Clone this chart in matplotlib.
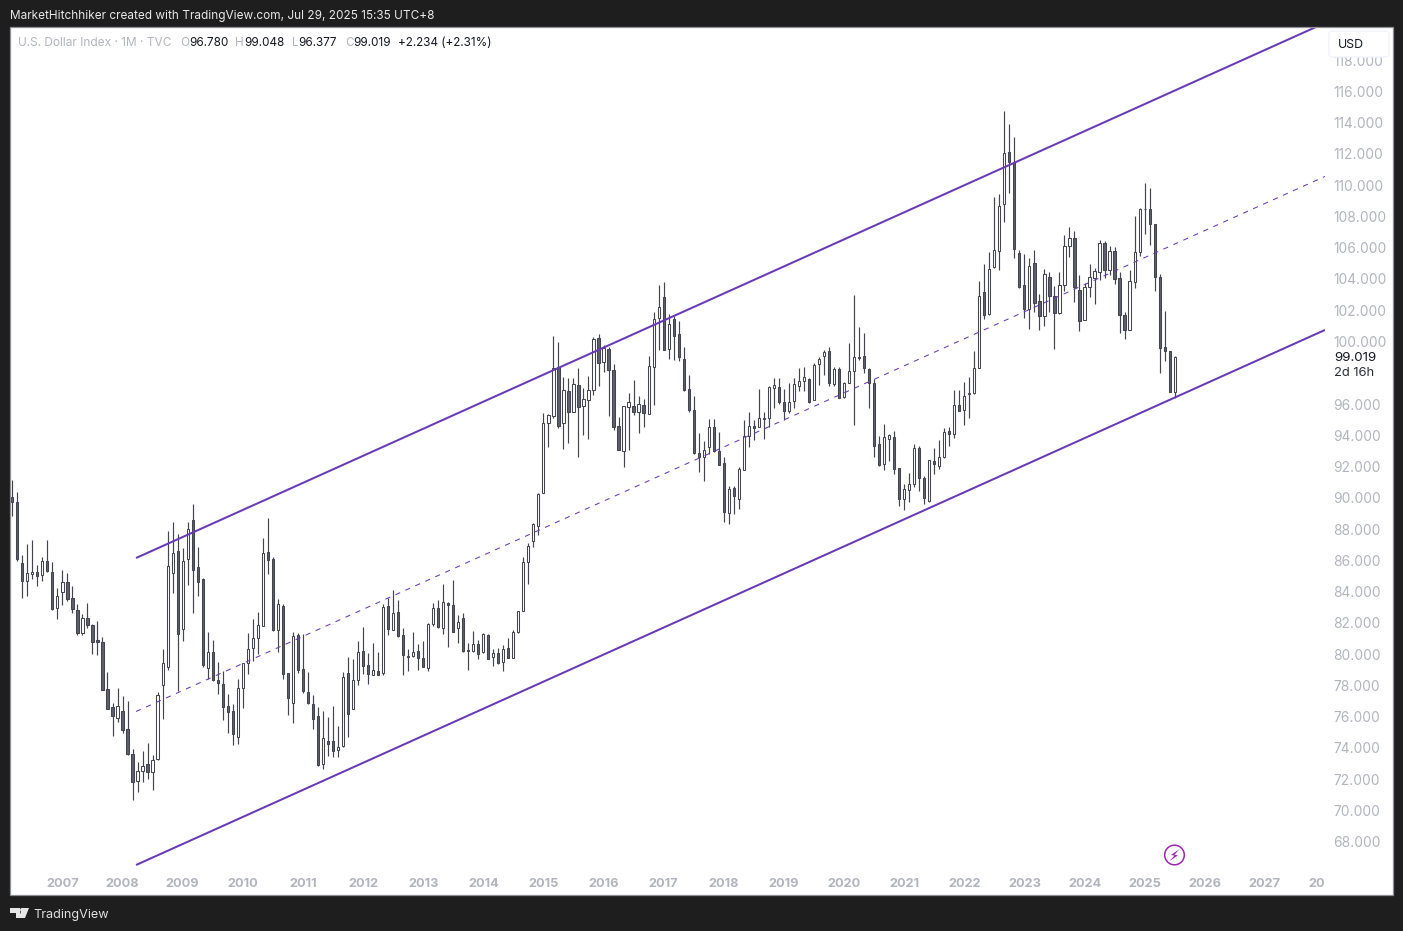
"""U.S. Dollar Index, monthly candles with a rising channel (TradingView snapshot)."""
import matplotlib
matplotlib.use("Agg")
import matplotlib.pyplot as plt
from matplotlib.patches import Circle, FancyBboxPatch, Polygon, Rectangle

plt.rcParams["font.family"] = ["Inter", "DejaVu Sans"]

# monthly candles, Mar 2006 .. Jul 2025
opens = [
    90.03, 89.71, 85.85, 84.66, 85.10, 85.23, 85.04, 85.94, 85.23, 82.93, 83.95, 84.59,
    83.57, 82.80, 81.37, 82.29, 81.84, 80.88, 80.75, 77.75, 76.60, 75.89, 76.34, 75.19,
    73.59, 71.86, 72.50, 72.95, 72.44, 73.27, 78.00, 79.15, 85.17, 86.58, 81.59, 86.06,
    88.56, 85.55, 84.78, 79.09, 80.11, 78.32, 78.07, 76.66, 76.34, 74.68, 77.81, 79.41,
    80.37, 81.01, 81.78, 86.51, 86.06, 81.52, 83.06, 78.77, 76.85, 81.20, 79.03, 77.55,
    76.79, 76.02, 72.95, 74.42, 74.42, 73.89, 74.10, 78.77, 76.47, 78.32, 80.18, 79.28,
    78.68, 78.90, 78.77, 83.06, 81.52, 82.67, 81.20, 79.86, 79.90, 80.18, 79.73, 79.09,
    81.90, 82.93, 81.65, 83.25, 83.12, 81.65, 82.29, 80.24, 80.18, 80.63, 80.11, 81.20,
    79.84, 80.05, 79.47, 80.37, 79.73, 81.39, 82.74, 85.87, 87.22, 88.17, 90.29, 94.77,
    95.21, 98.35, 94.77, 96.81, 95.51, 97.20, 95.85, 96.24, 96.88, 100.20, 98.67, 99.50,
    98.15, 94.57, 92.97, 95.79, 95.85, 95.47, 95.92, 95.34, 98.35, 101.48, 102.83, 99.50,
    101.42, 100.46, 98.86, 96.94, 95.60, 92.85, 92.59, 93.23, 94.51, 92.97, 92.21, 89.00,
    90.61, 89.90, 91.76, 93.93, 94.57, 94.51, 95.06, 95.09, 97.00, 97.07, 96.11, 95.53,
    96.17, 97.13, 97.45, 97.58, 96.24, 98.54, 99.05, 99.37, 97.26, 98.22, 96.43, 97.32,
    98.09, 98.99, 99.05, 98.22, 97.32, 93.42, 92.14, 93.74, 93.87, 91.88, 89.90, 90.48,
    90.86, 93.17, 91.24, 89.78, 92.33, 92.01, 92.59, 94.25, 94.06, 95.92, 95.60, 96.66,
    96.68, 98.28, 103.14, 101.74, 104.74, 105.77, 108.77, 112.10, 111.46, 105.64, 103.59, 102.06,
    105.00, 102.57, 101.61, 104.10, 102.89, 101.80, 103.59, 106.09, 106.60, 103.27, 101.35, 103.46,
    104.04, 104.42, 106.28, 104.55, 105.77, 104.04, 101.67, 100.71, 103.78, 105.70, 108.45, 108.45,
    107.50, 104.10, 99.63, 99.37, 96.78,
]
highs = [
    91.14, 90.35, 86.34, 87.05, 87.30, 85.70, 86.19, 87.30, 85.87, 84.23, 85.38, 85.19,
    84.36, 83.19, 82.55, 83.25, 81.91, 82.10, 81.07, 78.86, 76.85, 77.81, 77.30, 76.98,
    73.91, 73.08, 73.80, 74.29, 73.55, 77.55, 80.31, 87.88, 88.45, 87.66, 86.77, 88.43,
    89.60, 86.83, 84.85, 81.39, 80.88, 79.47, 78.90, 77.45, 76.79, 78.39, 79.45, 81.33,
    82.23, 82.67, 87.41, 88.69, 86.19, 83.51, 83.19, 78.77, 81.39, 81.33, 81.27, 78.83,
    77.36, 76.59, 76.34, 75.95, 76.66, 75.38, 78.83, 79.79, 79.67, 80.82, 81.71, 80.05,
    80.69, 80.11, 83.18, 83.57, 84.08, 83.44, 81.65, 80.31, 81.39, 80.63, 80.82, 81.97,
    83.25, 83.44, 84.46, 83.31, 84.72, 82.48, 82.61, 80.69, 81.46, 80.88, 81.33, 81.27,
    80.31, 80.37, 80.56, 81.01, 81.52, 82.74, 86.19, 87.09, 88.37, 90.33, 95.40, 95.34,
    100.35, 99.95, 97.71, 97.64, 97.64, 98.28, 97.00, 97.77, 100.27, 100.46, 99.76, 99.63,
    98.54, 95.15, 95.85, 96.68, 97.52, 96.49, 96.30, 99.05, 101.87, 103.59, 103.79, 101.74,
    101.61, 101.29, 99.63, 97.84, 96.49, 94.12, 93.61, 95.02, 95.02, 94.19, 92.59, 90.73,
    90.73, 91.95, 94.96, 95.47, 94.96, 96.94, 95.47, 97.13, 97.64, 97.64, 96.94, 97.32,
    97.64, 98.28, 98.35, 97.64, 98.60, 98.99, 99.43, 99.63, 98.35, 98.35, 97.43, 99.88,
    102.95, 100.91, 100.52, 98.28, 97.58, 93.93, 94.70, 94.06, 94.25, 91.88, 90.86, 91.56,
    93.42, 93.29, 91.37, 92.40, 93.17, 93.68, 94.44, 94.51, 96.88, 96.88, 97.39, 97.71,
    99.37, 103.87, 104.94, 105.70, 109.22, 109.41, 114.72, 113.91, 113.06, 105.83, 105.58, 105.32,
    105.83, 103.02, 104.62, 104.42, 103.53, 104.42, 106.79, 107.30, 107.05, 104.23, 103.72, 104.94,
    104.68, 106.47, 106.41, 106.09, 106.02, 104.42, 101.86, 104.55, 108.01, 108.52, 110.12, 109.80,
    107.50, 104.30, 101.93, 99.37, 99.048,
]
lows = [
    88.86, 85.98, 83.61, 83.74, 84.78, 84.38, 84.70, 85.23, 82.80, 82.27, 83.16, 83.38,
    82.65, 81.24, 81.24, 81.69, 80.03, 79.96, 77.68, 76.47, 74.78, 75.64, 74.97, 73.57,
    70.69, 71.20, 71.84, 72.03, 71.33, 73.20, 75.87, 78.96, 83.93, 77.64, 80.86, 84.44,
    82.65, 83.74, 79.20, 78.39, 78.26, 77.43, 75.81, 74.97, 74.21, 74.27, 76.57, 78.71,
    79.54, 80.01, 81.78, 85.10, 81.46, 80.11, 78.43, 76.13, 75.61, 78.77, 77.53, 76.79,
    75.23, 72.86, 72.67, 73.50, 73.44, 73.44, 74.08, 74.72, 76.47, 78.00, 78.73, 78.11,
    78.64, 78.64, 78.64, 81.20, 81.52, 81.07, 78.64, 78.90, 79.84, 78.96, 79.15, 78.94,
    81.78, 81.65, 81.31, 80.48, 81.39, 80.69, 80.11, 79.00, 80.11, 79.71, 80.07, 79.67,
    79.26, 79.35, 78.94, 79.73, 79.73, 81.33, 82.74, 84.46, 86.87, 87.62, 90.29, 93.27,
    95.09, 94.44, 93.12, 93.53, 95.47, 92.63, 94.02, 93.78, 96.60, 97.17, 98.03, 95.26,
    94.32, 93.04, 91.95, 93.04, 95.28, 94.12, 94.51, 95.34, 95.92, 99.44, 99.44, 98.86,
    98.80, 98.73, 96.81, 95.47, 92.78, 91.63, 91.05, 92.78, 92.90, 92.08, 88.43, 88.30,
    88.94, 89.26, 91.76, 93.23, 93.72, 94.51, 93.78, 94.51, 95.72, 95.98, 94.96, 95.40,
    95.72, 96.81, 96.81, 96.04, 96.24, 97.20, 97.84, 97.13, 97.13, 96.36, 96.36, 97.32,
    94.64, 98.80, 97.96, 95.72, 92.59, 92.01, 91.76, 92.33, 91.50, 89.45, 89.20, 89.71,
    90.67, 90.41, 89.58, 89.71, 91.50, 91.82, 92.53, 93.29, 93.80, 95.53, 94.64, 95.13,
    96.62, 98.28, 101.42, 101.67, 104.72, 104.59, 107.67, 109.52, 105.32, 103.40, 101.52, 100.82,
    101.86, 100.76, 101.01, 101.91, 99.54, 101.74, 103.25, 105.38, 102.50, 100.65, 101.35, 102.87,
    102.38, 103.91, 104.04, 104.23, 103.66, 100.52, 100.14, 100.71, 103.40, 105.45, 106.86, 106.15,
    103.21, 97.96, 98.73, 96.75, 96.377,
]
closes = [
    89.71, 86.06, 84.66, 85.17, 85.23, 84.98, 85.94, 85.30, 82.87, 83.70, 84.59, 83.51,
    82.87, 81.37, 82.29, 81.88, 80.75, 80.75, 77.68, 76.47, 76.06, 76.66, 75.12, 73.63,
    71.80, 72.50, 72.82, 72.44, 73.20, 77.36, 79.41, 85.62, 86.45, 81.27, 85.94, 87.98,
    85.36, 84.59, 79.28, 80.11, 78.32, 78.13, 76.60, 76.28, 74.87, 77.81, 79.41, 80.31,
    81.01, 81.84, 86.45, 86.00, 81.52, 83.19, 78.71, 77.21, 81.14, 78.96, 77.66, 76.85,
    75.83, 72.88, 74.61, 74.27, 73.82, 74.08, 78.51, 76.15, 78.32, 80.11, 79.22, 78.71,
    78.96, 78.68, 82.99, 81.59, 82.61, 81.14, 79.92, 79.81, 80.11, 79.73, 79.15, 81.90,
    82.93, 81.71, 83.31, 83.12, 81.39, 82.03, 80.18, 80.18, 80.63, 79.99, 81.27, 79.67,
    80.05, 79.41, 80.31, 79.73, 81.39, 82.74, 85.87, 86.90, 88.30, 90.22, 94.77, 95.28,
    98.28, 94.57, 96.88, 95.47, 97.26, 95.79, 96.30, 96.88, 100.14, 98.60, 99.56, 98.15,
    94.51, 93.04, 95.85, 96.11, 95.47, 95.98, 95.40, 98.41, 101.42, 102.19, 99.44, 101.10,
    100.33, 98.99, 96.88, 95.60, 92.85, 92.59, 93.04, 94.51, 92.97, 92.08, 89.07, 90.54,
    90.09, 91.82, 93.93, 94.57, 94.44, 95.09, 95.09, 97.07, 97.20, 96.11, 95.53, 96.11,
    97.26, 97.45, 97.71, 96.11, 98.48, 98.86, 99.31, 97.32, 98.22, 96.36, 97.32, 98.09,
    98.99, 98.97, 98.28, 97.32, 93.29, 92.08, 93.87, 94.00, 91.82, 89.90, 90.54, 90.86,
    93.17, 91.24, 89.97, 92.40, 92.14, 92.59, 94.19, 94.06, 95.92, 95.53, 96.49, 96.68,
    98.28, 102.89, 101.67, 104.62, 105.83, 108.65, 112.04, 111.46, 105.90, 103.46, 102.06, 104.81,
    102.44, 101.61, 104.30, 102.89, 101.80, 103.59, 106.09, 106.60, 103.46, 101.29, 103.46, 104.10,
    104.49, 106.28, 104.55, 105.77, 103.98, 101.67, 100.71, 103.85, 105.70, 108.45, 108.47, 107.50,
    104.10, 99.56, 99.37, 96.75, 99.019,
]

# channel ends as (month index, price)
channel_x = [24.7, 262.0]
upper_line = [86.15, 120.38]
middle_line = [76.33, 110.56]
lower_line = [66.51, 100.74]

price_ticks = [68, 70, 72, 74, 76, 78, 80, 82, 84, 86, 88, 90, 92, 94, 96,
               100, 102, 104, 106, 108, 110, 112, 114, 116, 118]
year_labels = [2007, 2008, 2009, 2010, 2011, 2012, 2013, 2014, 2015, 2016, 2017,
               2018, 2019, 2020, 2021, 2022, 2023, 2024, 2025, 2026, 2027, 2028]

W, H = 1403, 931
BG = "#1e1e1e"
GREY = "#b2b5be"
DARK = "#131722"
PURPLE = "#673ab7"
WICK = "#43444f"
DOWN = "#5d606b"


def fx(x):
    return x / W


def fy(y):
    return 1 - y / H


def label(x, y, s, color=DARK, size=8.45, **kw):
    fig.text(fx(x), fy(y), s, color=color, fontsize=size, va="center", **kw)


fig = plt.figure(figsize=(W / 100, H / 100), dpi=100, facecolor=BG)

L, R, SCALE_R, T, B = 10.5, 1325, 1393, 27, 895
ax = fig.add_axes([fx(L), fy(B), fx(R - L), (B - T) / H], facecolor="white", zorder=1)
scale = fig.add_axes([fx(R), fy(B), fx(SCALE_R - R), (B - T) / H], facecolor="white", zorder=2)

ylim = (64.59, 120.12)
ax.set_xlim(-0.36, 262.0)
ax.set_ylim(*ylim)
scale.set_ylim(*ylim)
scale.set_xticks([])

months = list(range(len(closes)))
ax.vlines(months, lows, highs, color=WICK, lw=0.85, zorder=2)
bottoms = [min(o, c) for o, c in zip(opens, closes)]
heights = [max(abs(c - o), 0.03) for o, c in zip(opens, closes)]
faces = ["white" if c >= o else DOWN for o, c in zip(opens, closes)]
ax.bar(months, heights, bottom=bottoms, width=0.44, color=faces, edgecolor=WICK, lw=0.75, zorder=3)

ax.plot(channel_x, upper_line, color=PURPLE, lw=1.45, zorder=4, solid_capstyle="butt")
ax.plot(channel_x, lower_line, color=PURPLE, lw=1.45, zorder=4, solid_capstyle="butt")
ax.plot(channel_x, middle_line, color=PURPLE, lw=0.75, ls=(0, (5, 5.5)), zorder=4)

ax.set_yticks([])
ax.set_xticks([(y - 2006) * 12 - 2 for y in year_labels], [str(y) for y in year_labels])
ax.tick_params(axis="x", length=0, pad=-12.2, labelsize=9.2, labelcolor=GREY)
for t in ax.get_xticklabels():
    t.set_fontweight("bold")
    t.set_x(t.get_position()[0])

scale.yaxis.tick_right()
scale.set_yticks(price_ticks, [f"{p:.3f}" for p in price_ticks])
scale.tick_params(axis="y", length=0, pad=-42.8, labelsize=9.9, labelcolor=GREY)

for a in (ax, scale):
    for s in a.spines.values():
        s.set_visible(False)

# chart frame
fig.add_artist(Rectangle((fx(10.1), fy(B)), fx(SCALE_R - 10.1), (B - T) / H, fill=False,
                         ec="#8f9096", lw=0.9, transform=fig.transFigure, zorder=5))

# header and legend line
label(10, 16, "MarketHitchhiker created with TradingView.com, Jul 29, 2025 15:35 UTC+8", color="#e8e8e8", size=8.5, zorder=6)
label(18, 43.5, "U.S. Dollar Index · 1M · TVC", color=GREY, size=8.55, zorder=6)
for x, s, c in [(180, "O", GREY), (189, "96.780", DARK), (235.5, "H", GREY), (244, "99.048", DARK),
                (292, "L", GREY), (298.5, "96.377", DARK), (345, "C", GREY), (353, "99.019", DARK),
                (398.5, "+2.234 (+2.31%)", DARK)]:
    label(x, 43.5, s, color=c, zorder=6)

# currency button
fig.add_artist(FancyBboxPatch((fx(1329), fy(57)), fx(60), 26 / H, boxstyle="round,pad=0,rounding_size=0.003",
                              fc="white", ec="#f0f3fa", lw=1, transform=fig.transFigure, zorder=6))
label(1338, 44.5, "USD", size=8.9, zorder=7)

# last price and countdown
label(1334, 358.5, "99.019", size=9.6, zorder=6)
label(1334, 372.5, "2d 16h", color="#2a2e39", size=9.4, zorder=6)

# lightning badge
fig.add_artist(Circle((1174.5, H - 855), 9.8, fill=False, ec="#9c27b0", lw=1.1,
                      transform=None, zorder=6))
bolt = [(1179.5, 849), (1171, 855), (1174.5, 855.6), (1169.5, 861), (1178, 855.4), (1174.5, 854.8)]
fig.add_artist(Polygon([(fx(x), fy(y)) for x, y in bolt], fc="#9c27b0", ec="none",
                       transform=fig.transFigure, zorder=6))

# TradingView logo
logo_t = [(10, 908), (20, 908), (20, 918), (15.5, 918), (15.5, 912.5), (10, 912.5)]
logo_v = [(22.5, 908), (29, 908), (25, 918), (18.5, 918)]
for shape in (logo_t, logo_v):
    fig.add_artist(Polygon([(fx(x), fy(y)) for x, y in shape], fc="#e6e6e6", ec="none",
                           transform=fig.transFigure, zorder=6))
fig.add_artist(Circle((22.2, H - 910), 2.1, fc="#e6e6e6", ec="none", transform=None, zorder=6))
label(33, 915, "TradingView", color="#e0e0e0", size=9.1, zorder=6)

assert len(opens) == len(highs) == len(lows) == len(closes)
fig.savefig("out.png", dpi=100, facecolor=BG)
